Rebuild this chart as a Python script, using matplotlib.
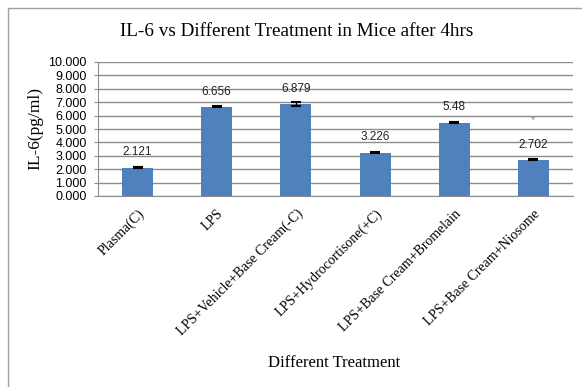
import matplotlib
matplotlib.use("Agg")
import matplotlib.pyplot as plt
from matplotlib.patches import Rectangle

treatments = ["Plasma(C)", "LPS", "LPS+Vehicle+Base Cream(-C)",
              "LPS+Hydrocortisone(+C)", "LPS+Base Cream+Bromelain",
              "LPS+Base Cream+Niosome"]
il6 = [2.121, 6.656, 6.879, 3.226, 5.48, 2.702]
il6_err = [0.02, 0.03, 0.15, 0.03, 0.04, 0.05]
labels = ["2.121", "6.656", "6.879", "3.226", "5.48", "2.702"]
yticks = [0, 1, 2, 3, 4, 5, 6, 7, 8, 9, 10]

serif = "Liberation Serif"
sans = "Liberation Sans"

fig = plt.figure(figsize=(5.82, 3.87), dpi=100)
W, H = 582, 387

# outer chart border (Excel style)
fig.patches.append(Rectangle((8 / W, -0.1), 1.2, (H - 8) / H + 0.1,
                             transform=fig.transFigure, fill=False,
                             edgecolor="#a0a0a0", lw=1.0))

ax = fig.add_axes([98 / W, 1 - 196 / H, (573 - 98) / W, (196 - 62) / H])

x = list(range(len(treatments)))
ax.bar(x, il6, width=0.39, color="#4f81bd", zorder=3)
ax.errorbar(x, il6, yerr=il6_err, fmt="none", ecolor="black",
            elinewidth=1.0, capsize=3.5, capthick=1.5, zorder=4)

for xi, v, t in zip(x, il6, labels):
    ax.annotate(t, (xi, v), xytext=(0, 11), textcoords="offset points",
                ha="center", va="center", fontsize=8.5, family=sans,
                color="#222222")

# significance mark
ax.text(5, 5.7, "*", ha="center", va="center", fontsize=8,
        color="#888888", family=sans)

ax.set_xlim(-0.5, len(treatments) - 0.5)
ax.set_ylim(0, 10)
ax.set_yticks(yticks)
ax.set_yticklabels(["%.3f" % v for v in yticks], family=sans, fontsize=9)
ax.yaxis.grid(True, color="#8c8c8c", lw=1.0, zorder=0)
ax.set_axisbelow(True)

ax.set_xticks(x)
ax.set_xticklabels(treatments, rotation=45, ha="right", va="top",
                   rotation_mode="anchor", family=serif, fontsize=10)
ax.tick_params(axis="x", length=0, pad=8)
ax.tick_params(axis="y", length=3, color="#8c8c8c", pad=5)

for s in ["top", "right"]:
    ax.spines[s].set_visible(False)
for s in ["left", "bottom"]:
    ax.spines[s].set_color("#8c8c8c")

ax.set_ylabel("IL-6(pg/ml)", family=serif, fontsize=12.5, labelpad=4)
fig.text(334 / W, 1 - 363 / H, "Different Treatment", family=serif,
         fontsize=12, ha="center", va="center")
fig.text(297 / W, 1 - 32 / H, "IL-6 vs Different Treatment in Mice after 4hrs",
         family=serif, fontsize=13.8, ha="center", va="center")

fig.savefig("out.png", dpi=100)
